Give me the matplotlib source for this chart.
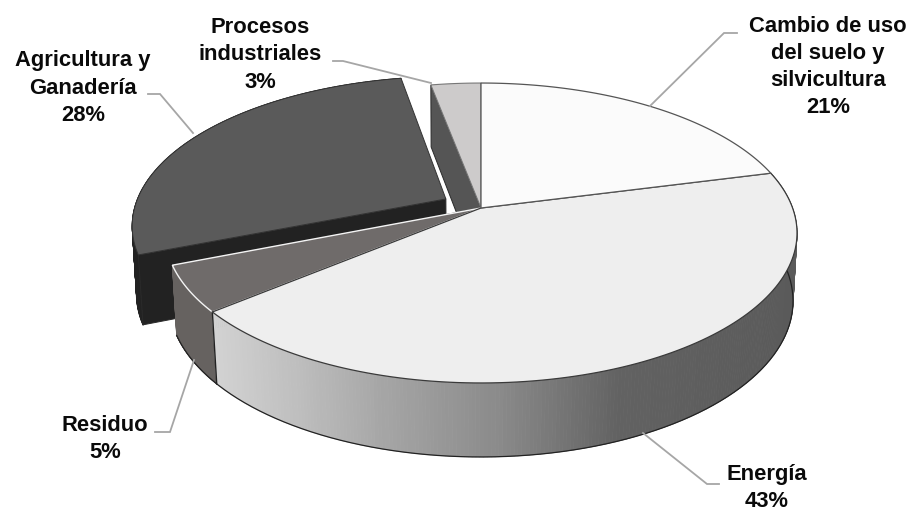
import numpy as np
import matplotlib
matplotlib.use("Agg")
import matplotlib.pyplot as plt
from matplotlib.patches import Polygon

# ---- data ----
categories = ["Cambio de uso\ndel suelo y\nsilvicultura", "Energía", "Residuo",
              "Agricultura y\nGanadería", "Procesos\nindustriales"]
values = [21, 43, 5, 28, 3]
explode = [0, 0, 0, 0.13, 0]

# ---- style / layout ----
top_colors = ["#fbfbfb", "#eeeeee", "#6f6b6a", "#5a5a5a", "#cdcbcb"]
wall_colors = {"procesos": "#555555", "agri": "#222222"}
label_xy = [(828, 67), (767, 488), (105, 439), (83, 88), (260, 55)]
leaders = [
    [(650, 106), (724, 33), (737, 33)],
    [(643, 433), (707, 484), (719, 484)],
    [(194, 360), (170, 432), (155, 432)],
    [(193, 133), (160, 94), (148, 94)],
    [(431, 83), (343, 61), (333, 61)],
]
X0 = 481
TOP = dict(b=311.6, y0=208, a=145.8, k=0.1667)
BOT = dict(b=308, y0=276, a=152, k=0.16)

fig = plt.figure(figsize=(9.18, 5.13), dpi=100)
ax = fig.add_axes([0, 0, 1, 1])
ax.set_xlim(0, 918)
ax.set_ylim(513, 0)
ax.axis("off")


def proj(u, v, p):
    w = 1 + p["k"] * v
    return X0 + p["b"] * u / w, p["y0"] - p["a"] * v / w


def disk(deg, off=(0, 0), r=1.0):
    t = np.radians(deg)
    return r * np.sin(t) + off[0], r * np.cos(t) + off[1]


vals = np.array(values, float)
edges = np.concatenate([[0], np.cumsum(vals) / vals.sum() * 360])
mids = (edges[:-1] + edges[1:]) / 2
offs = [(e * np.sin(np.radians(m)), e * np.cos(np.radians(m))) for e, m in zip(explode, mids)]


def top_poly(i, **kw):
    th = np.linspace(edges[i], edges[i + 1], 120)
    pts = [proj(*offs[i], TOP)] + [proj(*disk(t, offs[i]), TOP) for t in th]
    ax.add_patch(Polygon(pts, closed=True, **kw))


def cut_wall(i, deg, color, z):
    pts = [proj(*offs[i], TOP), proj(*disk(deg, offs[i]), TOP),
           proj(*disk(deg, offs[i]), BOT), proj(*offs[i], BOT)]
    ax.add_patch(Polygon(pts, closed=True, fc=color, ec="#2a2a2a", lw=0.7, zorder=z))


def side(i, colorfn, z, outline="#222222"):
    th = np.linspace(edges[i], edges[i + 1], 260)
    for a, b in zip(th[:-1], th[1:]):
        q = [proj(*disk(a, offs[i]), TOP), proj(*disk(b, offs[i]), TOP),
             proj(*disk(b, offs[i]), BOT), proj(*disk(a, offs[i]), BOT)]
        c = colorfn((q[0][0] + q[1][0]) / 2)
        ax.add_patch(Polygon(q, closed=True, fc=c, ec=c, lw=0.6, zorder=z))
    bottom = [proj(*disk(t, offs[i]), BOT) for t in th]
    ax.plot(*zip(*bottom), color=outline, lw=0.9, zorder=z + 0.1)


def energy_grad(x):
    g = np.interp(x, [215, 300, 380, 500, 620, 797], [0xd2, 0xbd, 0xa6, 0x8a, 0x62, 0x5a])
    return matplotlib.colors.to_hex((g / 255,) * 3)


# Procesos left cut wall, seen through the gap
cut_wall(4, edges[4], wall_colors["procesos"], 1)
# Agricultura: rim side + cut wall facing the viewer
side(3, lambda x: wall_colors["agri"], 2)
cut_wall(3, edges[3], wall_colors["agri"], 2.5)
top_poly(3, fc=top_colors[3], ec="#333333", lw=0.7, zorder=3)
# Procesos top
top_poly(4, fc=top_colors[4], ec="#777777", lw=0.8, zorder=3)
# Residuo
side(2, lambda x: "#666260", 4)
cut_wall(2, edges[3], "#666260", 3.5)
top_poly(2, fc=top_colors[2], ec="#f4f4f4", lw=1.0, zorder=5)
# Energía
side(1, energy_grad, 6)
p = [proj(*disk(edges[2]), TOP), proj(*disk(edges[2]), BOT)]
ax.plot(*zip(*p), color="#222222", lw=1.0, zorder=6.5)
top_poly(1, fc=top_colors[1], ec="#3a3a3a", lw=0.9, zorder=7)
# Cambio
top_poly(0, fc=top_colors[0], ec="#555555", lw=0.9, zorder=7)

for pts in leaders:
    ax.plot(*zip(*pts), color="#a6a6a6", lw=1.3, zorder=8, solid_joinstyle="miter")

for name, v, (x, y) in zip(categories, values, label_xy):
    ax.text(x, y, f"{name}\n{v}%", ha="center", va="center", family="Liberation Sans",
            fontweight="bold", fontsize=15.8, color="#0a0a0a", linespacing=1.38, zorder=9)

fig.savefig("out.png", dpi=100)
